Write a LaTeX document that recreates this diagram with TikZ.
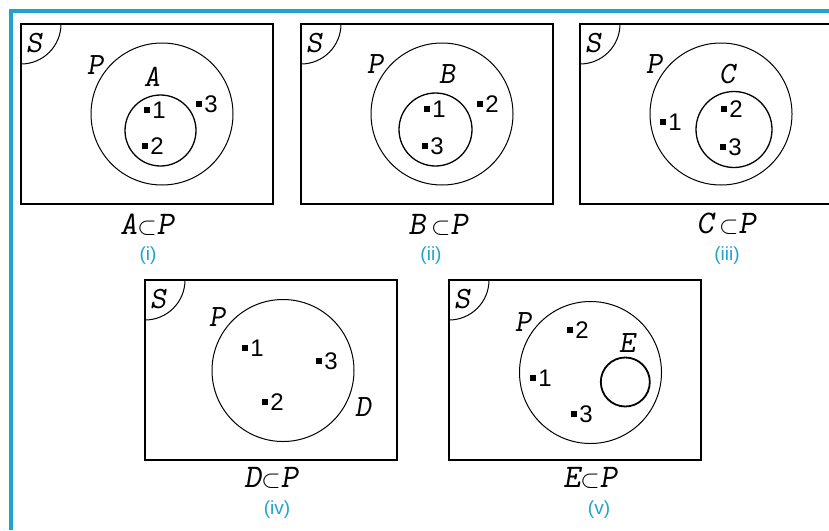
\documentclass[tikz,border=0pt]{standalone}
\usepackage{fontspec}
\newfontfamily\numfont{Liberation Sans}
\definecolor{ccyan}{HTML}{1FA3CC}
\tikzset{
  every picture/.style={line width=1pt},
  frame/.style={draw=ccyan, line width=4pt, line join=miter},
  panel/.style={draw, line width=1.6pt},
  setc/.style={circle, draw, inner sep=0pt, minimum size=#1},
  lbl/.style={font=\ttfamily\slshape\fontsize{31}{31}\selectfont, inner sep=0pt},
  caption/.style={font=\ttfamily\slshape\fontsize{33}{33}\selectfont, inner sep=0pt},
  num/.style={font=\numfont\fontsize{24}{24}\selectfont, inner sep=1.5pt},
  elem/.style={rectangle, fill, inner sep=0pt, minimum size=5.5pt},
  tag/.style={font=\numfont\fontsize{19}{19}\selectfont, text=ccyan},
}

\begin{document}
\begin{tikzpicture}[x=1pt, y=-1pt]
  \useasboundingbox (0,0) rectangle (829,530);
  \draw[frame] (11,530) -- (11,11) -- (829,11);
  % universal sets
  \foreach \x/\y/\n in {21/24/1, 301/24/2, 580/24/3, 145/280/4, 449/280/5} {
    \draw[panel] (\x,\y) rectangle ++(252,180);
    \draw (\x+40,\y) arc[start angle=0, end angle=90, radius=40];
    \node[lbl] (S\n) at (\x+13,\y+19) {S};
  }
  % (i)
  \node[setc=142pt] (P1) at (162,114) {};
  \node[setc=71pt, line width=1.3pt] (A1) at (160.5,130.5) {};
  \node[lbl] (lP1) at (95,65) {P};
  \node[lbl] (lA1) at (152,77) {A};
  \node[elem, label={[num]right:1}] (a1) at (147,110) {};
  \node[elem, label={[num]right:2}] (a2) at (145,146) {};
  \node[elem, label={[num]right:3}] (a3) at (199,104) {};
  \node[caption] (cap1) at (147,225) {A$\subset$P};
  \node[tag] (t1) at (148,256) {(i)};
  % (ii)
  \node[setc=142pt] (P2) at (442,114) {};
  \node[setc=73pt, line width=1.3pt] (B2) at (435.5,129.5) {};
  \node[lbl] (lP2) at (375,64) {P};
  \node[lbl] (lB2) at (447,74) {B};
  \node[elem, label={[num]right:1}] (b1) at (427,109) {};
  \node[elem, label={[num]right:3}] (b3) at (425,146) {};
  \node[elem, label={[num]right:2}] (b2) at (480,104) {};
  \node[caption] (cap2) at (438,225) {B\,$\subset$P};
  \node[tag] (t2) at (431,256) {(ii)};
  % (iii)
  \node[setc=142pt] (P3) at (721,114) {};
  \node[setc=76pt, line width=1.3pt] (C3) at (734,129.5) {};
  \node[lbl] (lP3) at (654,64) {P};
  \node[lbl] (lC3) at (727,74) {C};
  \node[elem, label={[num]right:1}] (c1) at (663,122) {};
  \node[elem, label={[num]right:2}] (c2) at (724,109) {};
  \node[elem, label={[num]right:3}] (c3) at (723,147) {};
  \node[caption] (cap3) at (726,224) {C\,$\subset$P};
  \node[tag] (t3) at (727,256) {(iii)};
  % (iv)
  \node[setc=142pt] (P4) at (283,370.5) {};
  \node[lbl] (lP4) at (217,317) {P};
  \node[lbl] (lD4) at (363,407) {D};
  \node[elem, label={[num]right:1}] (d1) at (245,348) {};
  \node[elem, label={[num]right:3}] (d3) at (319,361) {};
  \node[elem, label={[num]right:2}] (d2) at (265,402) {};
  \node[caption] (cap4) at (271,478) {D$\subset$P};
  \node[tag] (t4) at (277,510) {(iv)};
  % (v)
  \node[setc=142pt] (P5) at (590.5,372.5) {};
  \node[setc=49pt, line width=1.8pt] (E5) at (625.3,382) {};
  \node[lbl] (lP5) at (523,322) {P};
  \node[lbl] (lE5) at (627,343) {E};
  \node[elem, label={[num]right:2}] (e2) at (570,330) {};
  \node[elem, label={[num]right:1}] (e1) at (533,378) {};
  \node[elem, label={[num]right:3}] (e3) at (574,414) {};
  \node[caption] (cap5) at (590,478) {E$\subset$P};
  \node[tag] (t5) at (599,510) {(v)};
\end{tikzpicture}
\end{document}
